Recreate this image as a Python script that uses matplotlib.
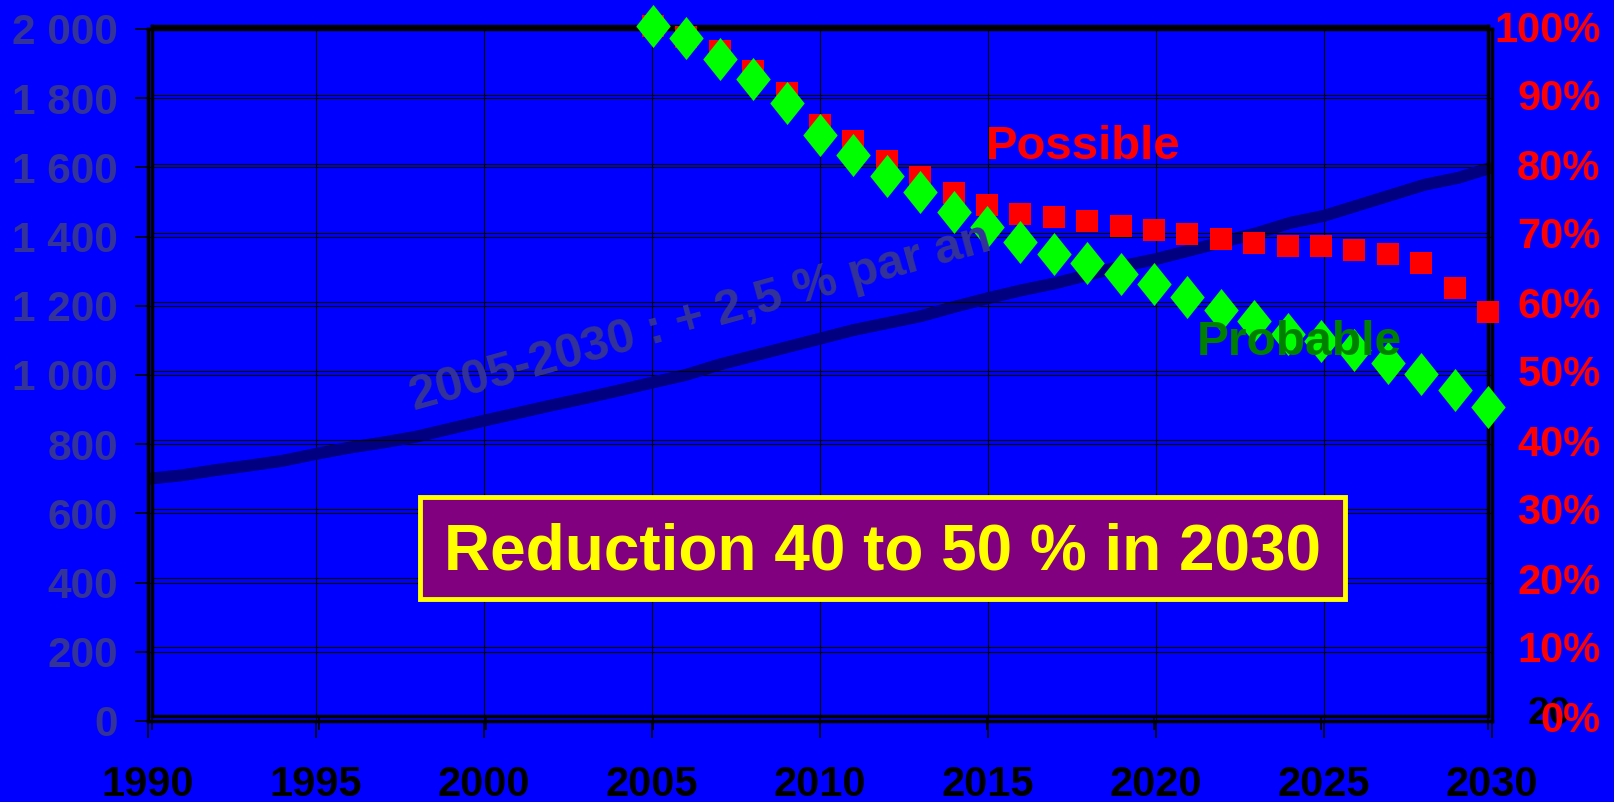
import matplotlib.pyplot as plt
from matplotlib.patches import Rectangle
from matplotlib.path import Path

plt.rcParams['font.family'] = ['Liberation Sans', 'DejaVu Sans']
plt.rcParams['font.weight'] = 'bold'

# trafic total (left axis) 1990-2030
years = list(range(1990, 2031))
trafic = [700, 710, 725, 738, 752, 772, 790, 805, 822, 845,
          868, 890, 912, 933, 955, 978, 1000, 1030, 1055, 1080,
          1105, 1130, 1150, 1170, 1197, 1222, 1245, 1265, 1290, 1315,
          1335, 1360, 1385, 1410, 1440, 1460, 1490, 1520, 1550, 1570, 1600]

# scenarios (right axis, % of 2005 level)
proj_years = list(range(2005, 2031))
possible = [100, 98.4, 96.4, 93.5, 90.3, 85.6, 83.3, 80.4, 78.1, 75.8,
            74.0, 72.7, 72.3, 71.7, 71.0, 70.4, 69.8, 69.1, 68.5, 68.1,
            68.1, 67.5, 66.9, 65.6, 62.1, 58.6]
probable = [100, 98.3, 95.2, 92.3, 88.8, 84.2, 81.3, 78.2, 75.9, 73.0,
            70.8, 68.7, 67.0, 65.6, 64.0, 62.6, 60.7, 58.8, 57.3, 55.3,
            54.3, 53.0, 51.2, 49.5, 47.2, 44.8]

x_ticks = list(range(1990, 2031, 5))
left_ticks = list(range(0, 2001, 200))
left_labels = ['0', '200', '400', '600', '800', '1 000', '1 200', '1 400',
               '1 600', '1 800', '2 000']
right_ticks = list(range(0, 101, 10))
right_labels = [f'{v}%' for v in right_ticks]

BLUE = '#0000ff'
SLATE = '#333399'
W, H = 1614, 802


def px_box(x0, y0, x1, y1):
    return [x0 / W, 1 - y1 / H, (x1 - x0) / W, (y1 - y0) / H]


fig = plt.figure(figsize=(W / 100, H / 100), dpi=100, facecolor=BLUE)

ax = fig.add_axes(px_box(148, 29, 1492, 721), facecolor=BLUE)
ax2 = fig.add_axes(px_box(152, 26, 1488, 716), facecolor='none')

# left axis: traffic line
ax.plot(years, trafic, color='#000080', linewidth=8.6, solid_capstyle='butt', zorder=2)
ax.set_xlim(1990, 2030)
ax.set_ylim(0, 2000)
ax.set_xticks(x_ticks)
ax.set_xticklabels([str(y) for y in x_ticks])
ax.set_yticks(left_ticks)
ax.set_yticklabels(left_labels)
ax.grid(True, color='black', linewidth=0.8)
ax.tick_params(axis='y', length=9.5, width=1.2, color='black', pad=12,
               labelsize=30.5, labelcolor=SLATE)
ax.tick_params(axis='x', length=12, width=1.2, color='black', pad=20,
               labelsize=30, labelcolor='black')
for s in ax.spines.values():
    s.set_color('black')
    s.set_linewidth(2.5)

# right axis: scenarios
diamond = Path([(0, 1), (0.8, 0), (0, -1), (-0.8, 0), (0, 1)],
               [Path.MOVETO, Path.LINETO, Path.LINETO, Path.LINETO, Path.CLOSEPOLY])
ax2.plot(proj_years, possible, linestyle='none', marker='s', markersize=16,
         color='#ff0000', markeredgewidth=0, zorder=3, clip_on=False)
ax2.plot(proj_years, probable, linestyle='none', marker=diamond, markersize=31,
         color='#00ff00', markeredgewidth=0, zorder=4, clip_on=False)
ax2.set_xlim(1990, 2030)
ax2.set_ylim(0, 100)
ax2.set_xticks(x_ticks)
ax2.tick_params(axis='x', length=10, width=1.2, color='black', labelbottom=False)
ax2.yaxis.tick_right()
ax2.set_yticks(right_ticks)
ax2.set_yticklabels(right_labels, ha='right')
ax2.tick_params(axis='y', length=0, pad=81, labelsize=30, labelcolor='#ff0000')
ax2.grid(True, axis='y', color='black', linewidth=0.8)
for s in ax2.spines.values():
    s.set_color('black')
    s.set_linewidth(2.5)

# annotations
fig.text(1083 / W, 1 - 147 / H, 'Possible', color='#ff0000', fontsize=34,
         ha='center', va='center')
fig.text(1299 / W, 1 - 343 / H, 'Probable', color='#008000', fontsize=34.5,
         ha='center', va='center', zorder=5)
fig.text(700 / W, 1 - 318 / H, '2005-2030 : + 2,5 % par an', color=SLATE,
         fontsize=35, ha='center', va='center', rotation=15.5,
         rotation_mode='anchor')
fig.text(1528 / W, 1 - 714 / H, '20', color='black', fontsize=28,
         ha='left', va='center', zorder=-1)

fig.patches.append(Rectangle((420 / W, 1 - 599 / H), 925 / W, 102 / H,
                             transform=fig.transFigure, facecolor='#800080',
                             edgecolor='#ffff00', linewidth=3.5))
fig.text(882 / W, 1 - 552 / H, 'Reduction 40 to 50 % in 2030', color='#ffff00',
         fontsize=46, ha='center', va='center', zorder=6)

fig.savefig('out.png', dpi=100, facecolor=BLUE)
